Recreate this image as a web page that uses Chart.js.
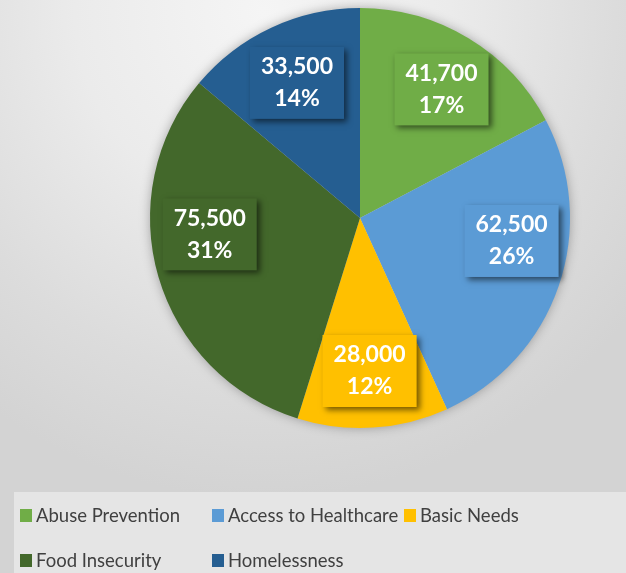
<!DOCTYPE html>
<html>
<head>
<meta charset="utf-8">
<script src="https://cdn.jsdelivr.net/npm/chart.js@4"></script>
<style>
  html, body { margin:0; padding:0; width:626px; height:573px; overflow:hidden; }
  body { background: radial-gradient(ellipse 75% 85% at 42% 2%, #f5f5f5 0%, #ebebeb 40%, #dcdcdc 75%, #d3d3d3 100%); }
  #wrap { position:absolute; left:0; top:0; width:626px; height:573px; }
</style>
</head>
<body>
<div id="wrap"><canvas id="c" width="626" height="573"></canvas></div>
<script>
const categories = ['Abuse Prevention', 'Access to Healthcare', 'Basic Needs', 'Food Insecurity', 'Homelessness'];
const amounts = [41700, 62500, 28000, 75500, 33500];
const sliceColors = ['#70AD47', '#5B9BD5', '#FFC000', '#43682B', '#255E91'];

const total = amounts.reduce((a, b) => a + b, 0);
const amountLabels = amounts.map(v => v.toLocaleString('en-US'));
const percentLabels = amounts.map(v => Math.round(v / total * 100) + '%');

// label placement style (fraction along slice angle, fraction of radius)
const labelStyle = {
  anglePos: [0.52, 0.39, 0.5, 0.59, 0.5],
  radialPos: [0.725, 0.73, 0.73, 0.72, 0.71],
  font: 'bold 23px Lato',
  lineGap: 32
};

const pieShadow = {
  id: 'pieShadow',
  beforeDatasetsDraw(chart) {
    const arc = chart.getDatasetMeta(0).data[0];
    if (!arc) return;
    const p = arc.getProps(['x', 'y', 'outerRadius'], true);
    const ctx = chart.ctx;
    ctx.save();
    ctx.shadowColor = 'rgba(0,0,0,0.35)';
    ctx.shadowBlur = 12;
    ctx.fillStyle = '#cccccc';
    ctx.beginPath();
    ctx.arc(p.x, p.y, p.outerRadius - 1, 0, Math.PI * 2);
    ctx.fill();
    ctx.restore();
  }
};

const boxLabels = {
  id: 'boxLabels',
  afterDatasetsDraw(chart) {
    const meta = chart.getDatasetMeta(0);
    const ctx = chart.ctx;
    meta.data.forEach((arc, i) => {
      const p = arc.getProps(['x', 'y', 'startAngle', 'endAngle', 'outerRadius'], true);
      const a = p.startAngle + (p.endAngle - p.startAngle) * labelStyle.anglePos[i];
      const r = p.outerRadius * labelStyle.radialPos[i];
      const cx = p.x + Math.cos(a) * r;
      const cy = p.y + Math.sin(a) * r;
      ctx.save();
      ctx.font = labelStyle.font;
      const w = Math.max(ctx.measureText(amountLabels[i]).width, ctx.measureText(percentLabels[i]).width) + 22;
      const h = labelStyle.lineGap * 2 + 8;
      ctx.shadowColor = 'rgba(0,0,0,0.55)';
      ctx.shadowBlur = 6;
      ctx.shadowOffsetX = 3;
      ctx.shadowOffsetY = 3;
      ctx.fillStyle = sliceColors[i];
      ctx.fillRect(cx - w / 2, cy - h / 2, w, h);
      ctx.shadowColor = 'transparent';
      ctx.fillStyle = '#ffffff';
      ctx.textAlign = 'center';
      ctx.textBaseline = 'middle';
      ctx.fillText(amountLabels[i], cx, cy - labelStyle.lineGap / 2);
      ctx.fillText(percentLabels[i], cx, cy + labelStyle.lineGap / 2);
      ctx.restore();
    });
  }
};

const gridLegend = {
  id: 'gridLegend',
  beforeDraw(chart) {
    const ctx = chart.ctx;
    ctx.save();
    ctx.fillStyle = 'rgba(235,235,235,0.75)';
    ctx.fillRect(14, 492, 626 - 14, 81);
    ctx.restore();
  },
  afterDraw(chart) {
    const ctx = chart.ctx;
    const cols = [20, 212, 404];
    const rows = [515, 560];
    ctx.save();
    ctx.font = '18.5px Lato';
    ctx.textBaseline = 'middle';
    ctx.textAlign = 'left';
    categories.forEach((name, i) => {
      const x = cols[i % 3];
      const y = rows[Math.floor(i / 3)];
      ctx.fillStyle = sliceColors[i];
      ctx.fillRect(x, y - 6, 12, 13);
      ctx.fillStyle = '#404040';
      ctx.fillText(name, x + 16, y + 1);
    });
    ctx.restore();
  }
};

new Chart(document.getElementById('c'), {
  type: 'pie',
  data: {
    labels: categories,
    datasets: [{
      data: amounts,
      backgroundColor: sliceColors,
      borderWidth: 0
    }]
  },
  options: {
    responsive: false,
    animation: false,
    layout: { padding: { left: 150, right: 56, top: 8, bottom: 145 } },
    plugins: {
      legend: { display: false },
      tooltip: { enabled: false }
    }
  },
  plugins: [pieShadow, boxLabels, gridLegend]
});
</script>
</body>
</html>
